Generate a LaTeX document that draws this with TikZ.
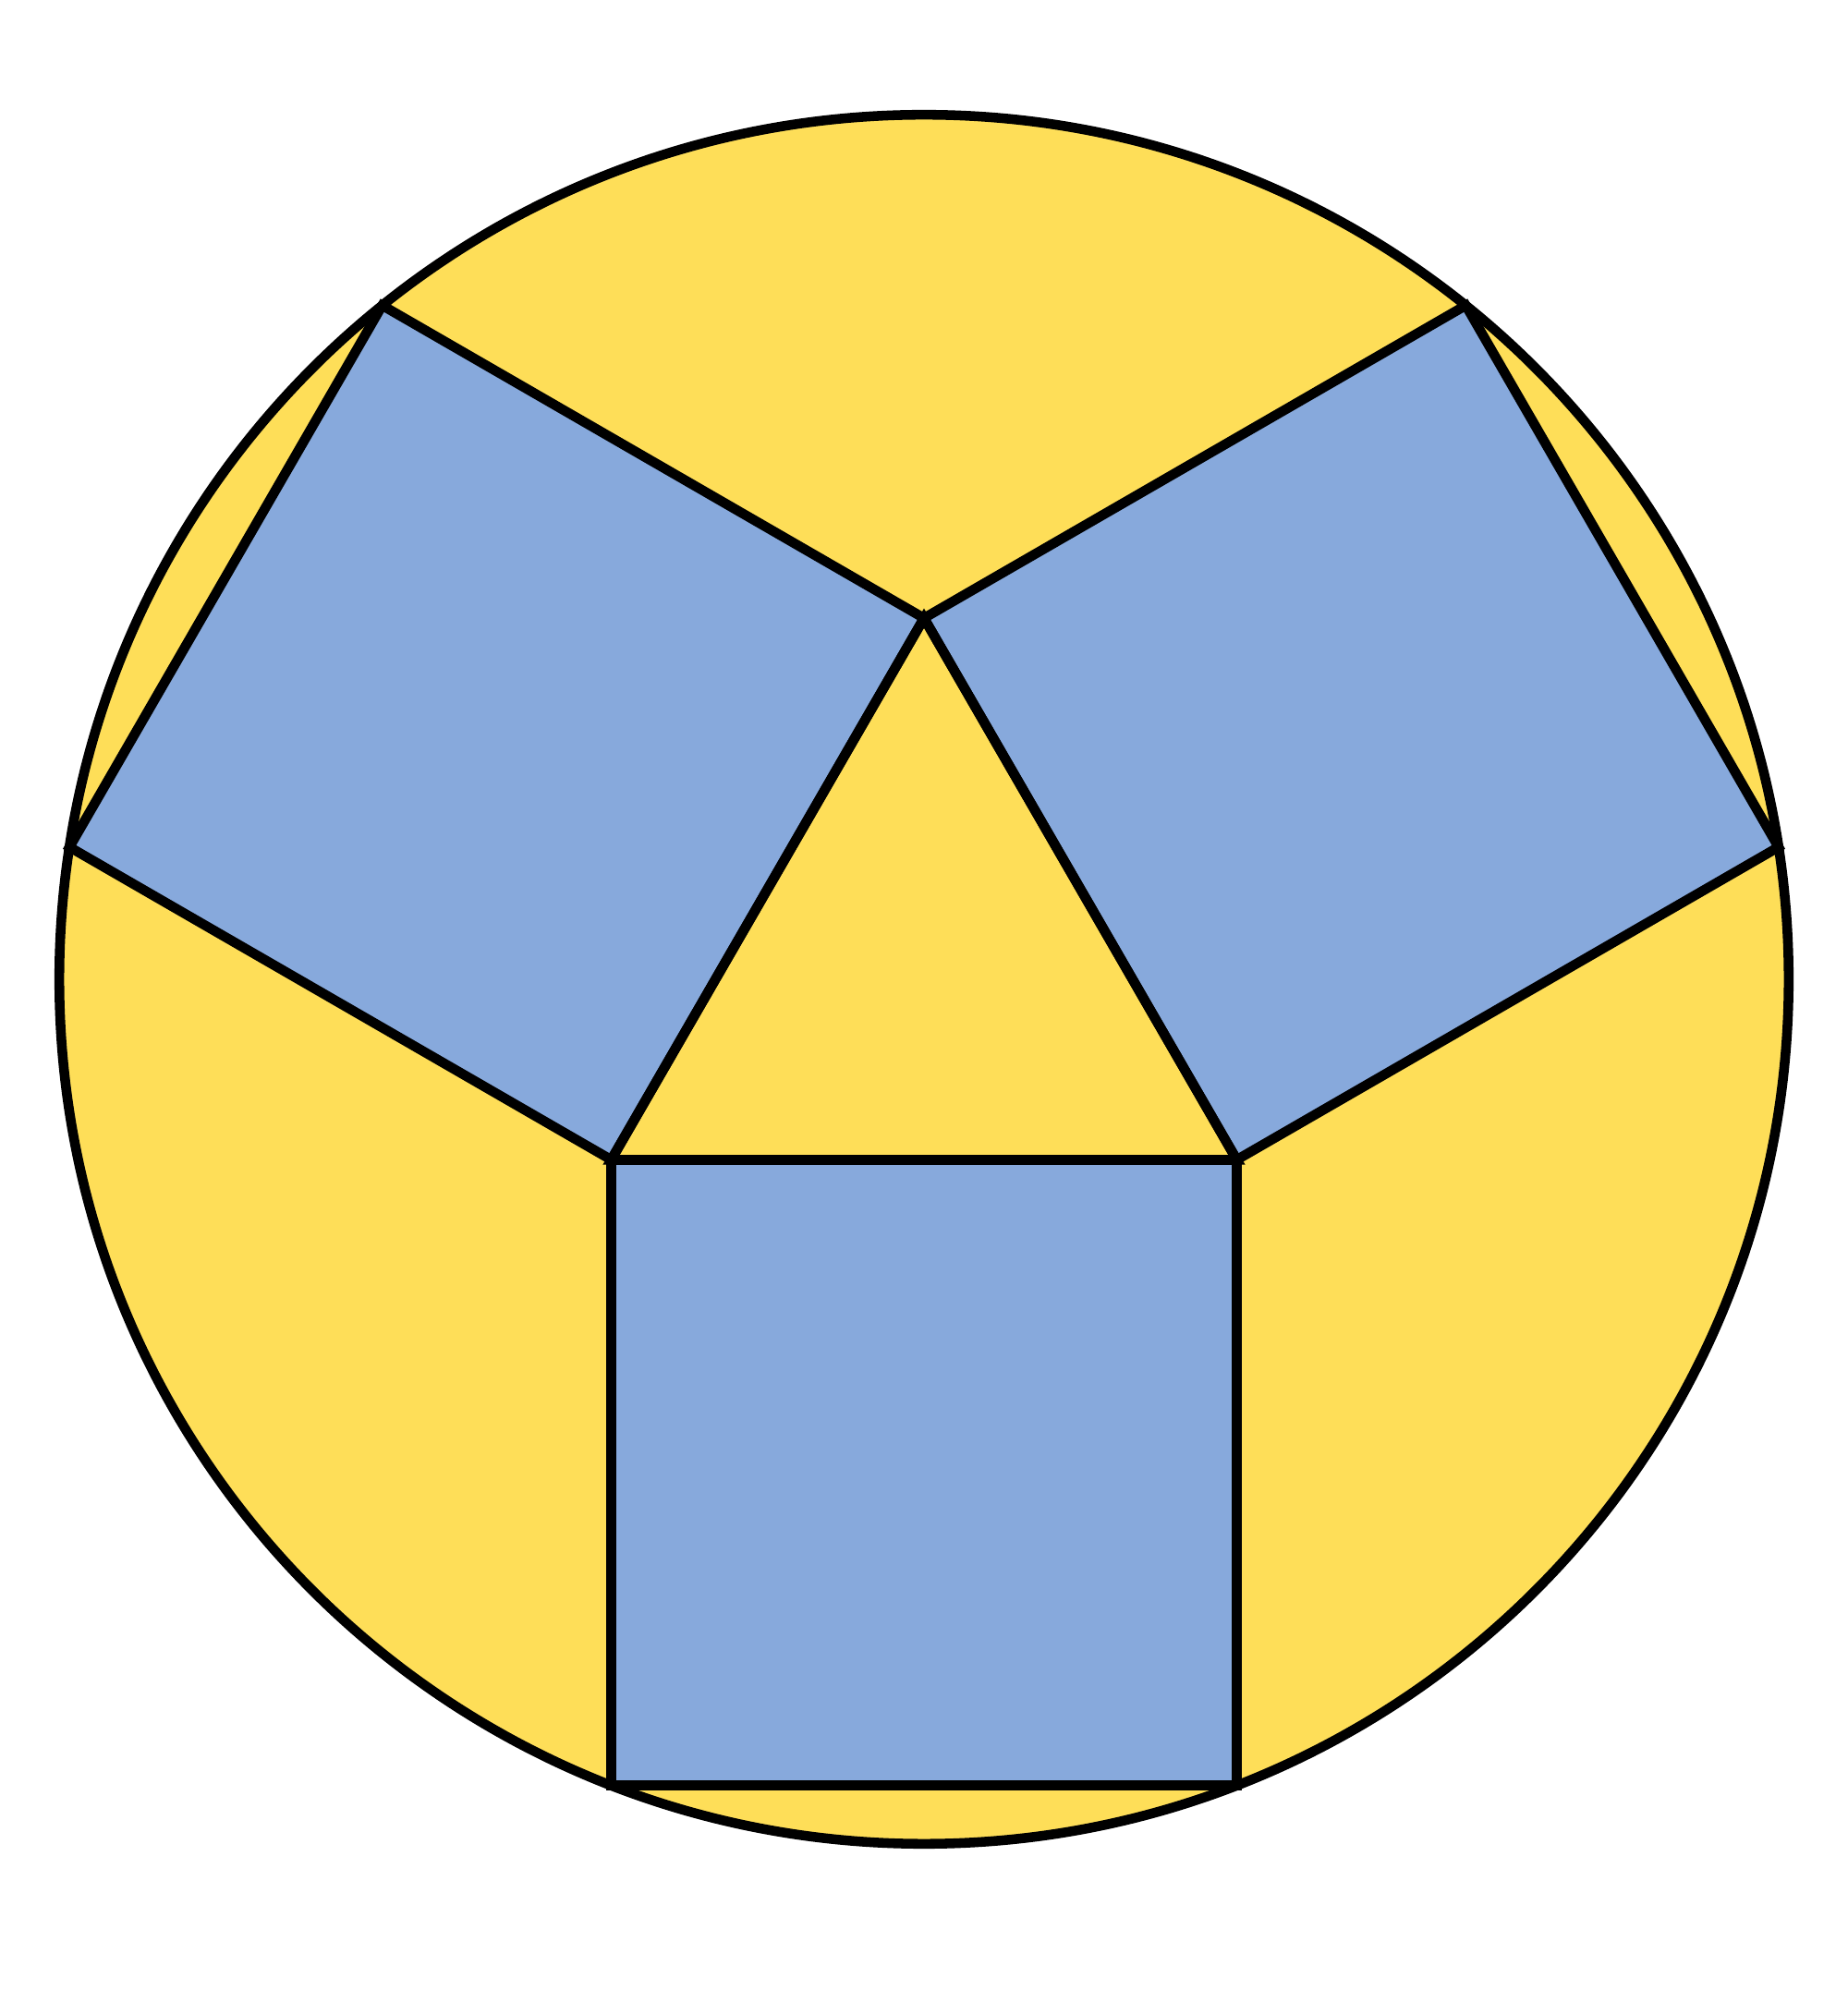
\documentclass[tikz,border=0pt]{standalone}
\usepackage{tikz}
\usetikzlibrary{calc}
\definecolor{discyellow}{HTML}{FEDE58}
\definecolor{tileblue}{HTML}{87A9DC}

\begin{document}
\begin{tikzpicture}
    \useasboundingbox (0,0) rectangle (20,21.67);

    \coordinate (O) at (10, 11.07);
    \coordinate (A) at (10, 14.979);
    \coordinate (B) at (6.615, 9.116);
    \coordinate (C) at (13.385, 9.116);

    % outer corners of the squares
    \coordinate (B1) at ($(B)!1!-90:(C)$);
    \coordinate (C1) at ($(C)!1!90:(B)$);
    \coordinate (C2) at ($(C)!1!-90:(A)$);
    \coordinate (A2) at ($(A)!1!90:(C)$);
    \coordinate (A3) at ($(A)!1!-90:(B)$);
    \coordinate (B3) at ($(B)!1!90:(A)$);

    \draw[line width=3pt, fill=discyellow] (O) circle (9.358);

    \draw[line width=3pt, fill=tileblue] (B) -- (C) -- (C1) -- (B1) -- cycle;
    \draw[line width=3pt, fill=tileblue] (C) -- (A) -- (A2) -- (C2) -- cycle;
    \draw[line width=3pt, fill=tileblue] (A) -- (B) -- (B3) -- (A3) -- cycle;

    \draw[line width=3pt] (A) -- (B) -- (C) -- cycle;
\end{tikzpicture}
\end{document}
